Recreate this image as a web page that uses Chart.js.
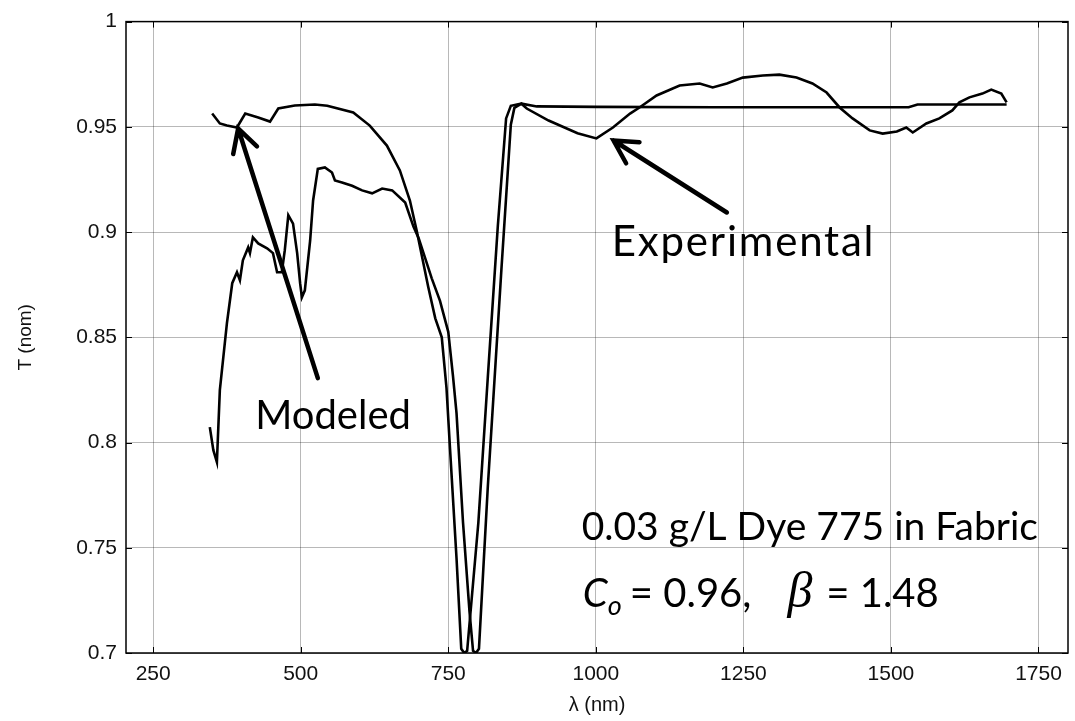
<!DOCTYPE html>
<html>
<head>
<meta charset="utf-8">
<script src="https://cdn.jsdelivr.net/npm/chart.js@4.4.0/dist/chart.umd.min.js"></script>
<style>
  html, body { margin: 0; padding: 0; background: #fff; }
  #wrap { width: 1075px; height: 721px; }
</style>
</head>
<body>
<div id="wrap"><canvas id="specChart" width="1075" height="721"></canvas></div>
<script>
// wavelength (nm) / normalised transmission
const modeledX = [350, 363, 375, 392, 406, 428, 448, 462, 490, 524, 545, 589, 617, 646, 668, 685, 697, 716, 728, 739, 747, 753, 764, 772, 777, 782, 801, 817, 834, 848, 856, 874, 900, 1000, 1200, 1530, 1545, 1696];
const modeledY = [0.9563, 0.9516, 0.9506, 0.9497, 0.9563, 0.9544, 0.9525, 0.9587, 0.9601, 0.9606, 0.9600, 0.9568, 0.9506, 0.9411, 0.9293, 0.915, 0.900, 0.874, 0.859, 0.850, 0.826, 0.797, 0.745, 0.702, 0.700, 0.701, 0.762, 0.831, 0.903, 0.954, 0.960, 0.961, 0.9597, 0.9595, 0.9593, 0.9593, 0.9606, 0.9606];

const experimentalX = [346, 352, 358, 363, 375, 384, 392, 397, 402, 411, 414, 419, 428, 443, 453, 460, 468, 473, 479, 487, 494, 499, 502, 507, 516, 521, 529, 541, 553, 558, 570, 587, 604, 621, 638, 655, 677, 691, 700, 722, 736, 750, 758, 764, 775, 786, 792, 797, 802, 817, 840, 856, 862, 874, 883, 920, 969, 1001, 1029, 1058, 1074, 1103, 1142, 1176, 1198, 1222, 1249, 1283, 1311, 1340, 1367, 1391, 1413, 1435, 1464, 1486, 1510, 1526, 1537, 1560, 1582, 1604, 1616, 1633, 1655, 1670, 1687, 1696];
const experimentalY = [0.8073, 0.7964, 0.7907, 0.8249, 0.8567, 0.8757, 0.8809, 0.8771, 0.8866, 0.8927, 0.8900, 0.8975, 0.8946, 0.8923, 0.8900, 0.8809, 0.8809, 0.8913, 0.9080, 0.9040, 0.8900, 0.8757, 0.8690, 0.8723, 0.8960, 0.9150, 0.9300, 0.9307, 0.9283, 0.9245, 0.9236, 0.9220, 0.9198, 0.9184, 0.9207, 0.9198, 0.9140, 0.9026, 0.897, 0.878, 0.8673, 0.8526, 0.8315, 0.814, 0.762, 0.7197, 0.701, 0.700, 0.702, 0.779, 0.882, 0.951, 0.959, 0.961, 0.9587, 0.953, 0.947, 0.9445, 0.9497, 0.9563, 0.9592, 0.9649, 0.9696, 0.9706, 0.9687, 0.9706, 0.9734, 0.9744, 0.9748, 0.9734, 0.9706, 0.9663, 0.9592, 0.954, 0.9483, 0.9468, 0.9478, 0.9497, 0.9473, 0.9516, 0.954, 0.9578, 0.9616, 0.964, 0.9658, 0.9677, 0.9658, 0.9616];

const xTicks = [250, 500, 750, 1000, 1250, 1500, 1750];
const yTicks = [0.7, 0.75, 0.8, 0.85, 0.9, 0.95, 1];

// annotation arrows in data units: [tailX, tailY, tipX, tipY]
const arrows = [
  [529, 0.8306, 394, 0.9492],
  [1222, 0.9093, 1030, 0.9435]
];

function toPoints(xs, ys) {
  return xs.map((x, i) => ({ x: x, y: ys[i] }));
}

const sansFont = "Lato, 'Open Sans', sans-serif";

// box, inward ticks, arrows and text labels
const annotate = {
  id: "annotate",
  afterDraw(chart) {
    const ctx = chart.ctx;
    const xs = chart.scales.x;
    const ys = chart.scales.y;
    const a = chart.chartArea;
    ctx.save();

    // inward tick marks on all four sides
    ctx.strokeStyle = "#000";
    ctx.lineWidth = 1;
    ctx.beginPath();
    xTicks.forEach(v => {
      const px = Math.round(xs.getPixelForValue(v)) + 0.5;
      ctx.moveTo(px, a.bottom); ctx.lineTo(px, a.bottom - 6);
      ctx.moveTo(px, a.top); ctx.lineTo(px, a.top + 6);
    });
    yTicks.forEach(v => {
      const py = Math.round(ys.getPixelForValue(v)) + 0.5;
      ctx.moveTo(a.left, py); ctx.lineTo(a.left + 6, py);
      ctx.moveTo(a.right, py); ctx.lineTo(a.right - 6, py);
    });
    ctx.stroke();

    // axes box
    ctx.lineWidth = 1.5;
    ctx.strokeRect(a.left, a.top, a.right - a.left, a.bottom - a.top);

    // arrows
    ctx.lineWidth = 4.5;
    ctx.lineCap = "round";
    arrows.forEach(([x0, y0, x1, y1]) => {
      const sx = xs.getPixelForValue(x0), sy = ys.getPixelForValue(y0);
      const ex = xs.getPixelForValue(x1), ey = ys.getPixelForValue(y1);
      const ang = Math.atan2(ey - sy, ex - sx);
      const len = 26, spread = 0.5;
      ctx.beginPath();
      ctx.moveTo(sx, sy); ctx.lineTo(ex, ey);
      ctx.moveTo(ex - len * Math.cos(ang - spread), ey - len * Math.sin(ang - spread));
      ctx.lineTo(ex, ey);
      ctx.lineTo(ex - len * Math.cos(ang + spread), ey - len * Math.sin(ang + spread));
      ctx.stroke();
    });

    // text labels
    ctx.fillStyle = "#000";
    ctx.textBaseline = "alphabetic";
    ctx.textAlign = "left";
    ctx.font = "40px " + sansFont;
    ctx.fillText("Modeled", xs.getPixelForValue(423), ys.getPixelForValue(0.8064));
    ctx.font = "42px " + sansFont;
    ctx.letterSpacing = "1.8px";
    ctx.fillText("Experimental", xs.getPixelForValue(1027), ys.getPixelForValue(0.8888));
    ctx.letterSpacing = "0px";
    ctx.font = "39px " + sansFont;
    ctx.fillText("0.03 g/L Dye 775 in Fabric", xs.getPixelForValue(976), ys.getPixelForValue(0.7535));

    // C_o = 0.96,  beta = 1.48
    let px = xs.getPixelForValue(978);
    const py = ys.getPixelForValue(0.7219);
    ctx.font = "italic 40px " + sansFont;
    ctx.fillText("C", px, py);
    px += ctx.measureText("C").width;
    ctx.font = "italic 27px " + sansFont;
    ctx.fillText("o", px, py + 8);
    px += ctx.measureText("o").width + 8;
    ctx.font = "40px " + sansFont;
    ctx.fillText("= 0.96,", px, py);
    px += ctx.measureText("= 0.96,").width + 36;
    ctx.font = "italic 50px 'Liberation Serif', 'DejaVu Serif', serif";
    ctx.fillText("\u03B2", px, py);
    px += ctx.measureText("\u03B2").width + 14;
    ctx.font = "40px " + sansFont;
    ctx.fillText("= 1.48", px, py);

    ctx.restore();
  }
};

new Chart(document.getElementById("specChart").getContext("2d"), {
  type: "line",
  data: {
    datasets: [
      {
        label: "Modeled",
        data: toPoints(modeledX, modeledY),
        borderColor: "#000",
        borderWidth: 2.6,
        pointRadius: 0,
        tension: 0,
        fill: false
      },
      {
        label: "Experimental",
        data: toPoints(experimentalX, experimentalY),
        borderColor: "#000",
        borderWidth: 2.6,
        pointRadius: 0,
        tension: 0,
        fill: false
      }
    ]
  },
  options: {
    responsive: false,
    animation: false,
    layout: { padding: { left: 0, right: 7, top: 21, bottom: 0 } },
    plugins: {
      legend: { display: false },
      tooltip: { enabled: false }
    },
    scales: {
      x: {
        type: "linear",
        min: 204,
        max: 1800,
        afterBuildTicks: (scale) => { scale.ticks = xTicks.map(v => ({ value: v })); },
        afterFit: (scale) => { scale.height = 68; },
        border: { display: false },
        grid: { color: "rgba(0,0,0,0.28)", lineWidth: 1, drawTicks: false },
        ticks: {
          color: "#111",
          padding: 9,
          font: { family: "'Liberation Sans', Arial, sans-serif", size: 21 },
          callback: (v) => String(v)
        },
        title: {
          display: true,
          text: "\u03BB (nm)",
          color: "#111",
          padding: { top: 0, bottom: 4 },
          font: { family: "'Liberation Sans', Arial, sans-serif", size: 20 }
        }
      },
      y: {
        type: "linear",
        min: 0.7,
        max: 1,
        afterBuildTicks: (scale) => { scale.ticks = yTicks.map(v => ({ value: v })); },
        afterFit: (scale) => { scale.width = 126; },
        border: { display: false },
        grid: { color: "rgba(0,0,0,0.28)", lineWidth: 1, drawTicks: false },
        ticks: {
          color: "#111",
          padding: 9,
          font: { family: "'Liberation Sans', Arial, sans-serif", size: 21 },
          callback: (v) => String(Number(v.toFixed(2)))
        },
        title: {
          display: true,
          text: "T (nom)",
          color: "#111",
          padding: { top: 14, bottom: 0 },
          font: { family: "'Liberation Sans', Arial, sans-serif", size: 19 }
        }
      }
    }
  },
  plugins: [annotate]
});
</script>
</body>
</html>
